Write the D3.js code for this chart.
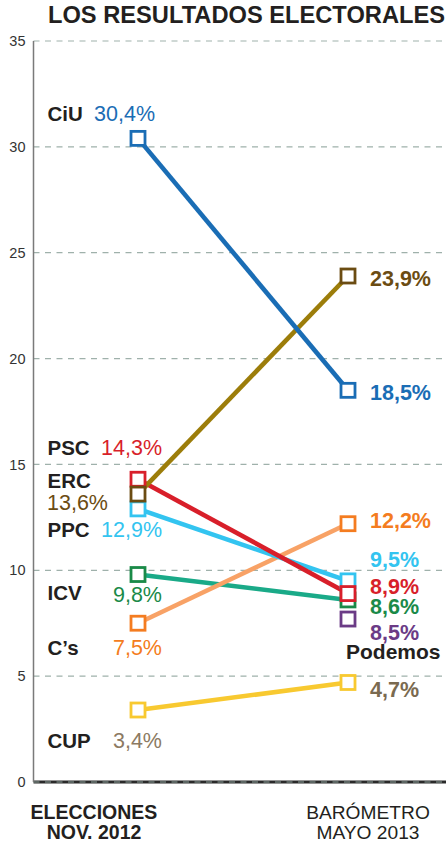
<!DOCTYPE html>
<html>
<head>
<meta charset="utf-8">
<script src="https://cdn.jsdelivr.net/npm/d3@7"></script>
<style>
  html, body { margin: 0; padding: 0; background: #ffffff; }
  svg { display: block; font-family: "Liberation Sans", Arial, Helvetica, sans-serif; }
</style>
</head>
<body>
<svg id="chart" width="446" height="857"></svg>
<script>
// ---- DATA ----
const periods = ["ELECCIONES NOV. 2012", "BARÓMETRO MAYO 2013"];
const parties = ["CUP", "ICV", "C's", "PPC", "PSC", "ERC", "CiU", "Podemos"];
const partyLabels = ["CUP", "ICV", "C’s", "PPC", "PSC", "ERC", "CiU", "Podemos"];
const values2012 = [3.4, 9.8, 7.5, 12.9, 14.3, 13.6, 30.4, null];
const values2013 = [4.7, 8.6, 12.2, 9.5, 8.9, 23.9, 18.5, 8.5];
const yTicks = [0, 5, 10, 15, 20, 25, 30, 35];
const titleText = "LOS RESULTADOS ELECTORALES";

// ---- STYLE / LAYOUT (not data) ----
const lineColors   = ["#f8c930", "#1aaa88", "#f8a266", "#33c4f0", "#d81f2a", "#9c7d0a", "#1a6db5", "#6b3b86"];
const markerColors = ["#f8c930", "#1a8a48", "#f47c20", "#33c4f0", "#d81f2a", "#6b4c12", "#1a6db5", "#6b3b86"];
const leftValColors  = ["#8c7a62", "#1a8a48", "#f47c20", "#33c4f0", "#d81f2a", "#6b4c12", "#1a6db5", null];
const rightValColors = ["#7a6a50", "#1a8a48", "#f47c20", "#33c4f0", "#d81f2a", "#6b4c12", "#1a6db5", "#6b3b86"];
// label nudges relative to the scaled value position (px)
const leftNameDy   = [38, 25.5, 32, 28, -24, -6, -17, null];
const leftValDy    = [38, 27.5, 32, 28, -24, 16, -17, null];
const leftValX     = [162, 162, 162, 162, 162, 47, 155, null];
const leftValAnchor= ["end", "end", "end", "end", "end", "start", "end", null];
const rightValDy   = [14.5, 14, 4.5, -14, 0, 9.5, 9.6, 38];
const rightMarkerDy= [0, 0, 0, 0, 0, 0, 0, 17];

const W = 446, H = 857;
const svg = d3.select("#chart");

const y = d3.scaleLinear().domain([0, 35]).range([782, 41]);
const x = d3.scalePoint().domain(periods).range([138, 348]);
const axisX = 33.5;

// Title
svg.append("text")
  .attr("x", 48).attr("y", 23)
  .attr("font-size", 23.5).attr("font-weight", "bold")
  .attr("fill", "#231f20")
  .attr("textLength", 397).attr("lengthAdjust", "spacingAndGlyphs")
  .text(titleText);

// Gridlines
const grid = svg.append("g");
grid.selectAll("line.grid").data(yTicks.filter(d => d > 0)).join("line")
  .attr("class", "grid")
  .attr("x1", axisX).attr("x2", W)
  .attr("y1", d => y(d)).attr("y2", d => y(d))
  .attr("stroke", "#9fb1ab").attr("stroke-width", 1.2)
  .attr("stroke-dasharray", "6,5.5");

// Baseline (0): dark with dashes
grid.append("line")
  .attr("x1", axisX).attr("x2", W)
  .attr("y1", y(0)).attr("y2", y(0))
  .attr("stroke", "#2a2a2a").attr("stroke-width", 3);
grid.append("line")
  .attr("x1", axisX).attr("x2", W)
  .attr("y1", y(0)).attr("y2", y(0))
  .attr("stroke", "#8fa39c").attr("stroke-width", 1)
  .attr("stroke-dasharray", "6,5.5");

// Y axis
const yAxis = d3.axisLeft(y).tickValues(yTicks).tickSize(0).tickPadding(8);
const gy = svg.append("g").attr("transform", `translate(${axisX},0)`).call(yAxis);
gy.select(".domain").attr("stroke", "#7a7a7a").attr("stroke-width", 1.5)
  .attr("d", `M0,${y(35)}V${y(0)}`);
gy.selectAll(".tick text")
  .attr("font-size", 14.5).attr("fill", "#333")
  .attr("font-family", "'Liberation Sans', Arial, sans-serif");

// Lines
const idx = d3.range(parties.length);
svg.append("g").selectAll("line.series")
  .data(idx.filter(i => values2012[i] != null)).join("line")
  .attr("x1", x(periods[0])).attr("y1", i => y(values2012[i]))
  .attr("x2", x(periods[1])).attr("y2", i => y(values2013[i]))
  .attr("stroke", i => lineColors[i]).attr("stroke-width", 4.6);

// Markers
const ms = 14;
const mg = svg.append("g");
idx.forEach(i => {
  if (values2012[i] != null) {
    mg.append("rect")
      .attr("x", x(periods[0]) - ms / 2).attr("y", y(values2012[i]) - ms / 2)
      .attr("width", ms).attr("height", ms)
      .attr("fill", "#fff").attr("stroke", markerColors[i]).attr("stroke-width", 2.8);
  }
});
idx.forEach(i => {
  mg.append("rect")
    .attr("x", x(periods[1]) - ms / 2).attr("y", y(values2013[i]) + rightMarkerDy[i] - ms / 2)
    .attr("width", ms).attr("height", ms)
    .attr("fill", "#fff").attr("stroke", markerColors[i]).attr("stroke-width", 2.8);
});

const fmt = v => String(v.toFixed(1)).replace(".", ",") + "%";

// Left labels
const lg = svg.append("g");
idx.filter(i => values2012[i] != null).forEach(i => {
  lg.append("text")
    .attr("x", 47.5).attr("y", y(values2012[i]) + leftNameDy[i])
    .attr("font-size", 20.5).attr("font-weight", "bold").attr("fill", "#231f20")
    .text(partyLabels[i]);
  lg.append("text")
    .attr("x", leftValX[i]).attr("y", y(values2012[i]) + leftValDy[i])
    .attr("text-anchor", leftValAnchor[i])
    .attr("font-size", 21.5).attr("fill", leftValColors[i])
    .text(fmt(values2012[i]));
});

// Right labels
const rg = svg.append("g");
idx.forEach(i => {
  rg.append("text")
    .attr("x", 370).attr("y", y(values2013[i]) + rightValDy[i])
    .attr("font-size", 21.5).attr("font-weight", "bold").attr("fill", rightValColors[i])
    .text(fmt(values2013[i]));
});
const pi = parties.indexOf("Podemos");
rg.append("text")
  .attr("x", 346).attr("y", y(values2013[pi]) + 57)
  .attr("font-size", 21).attr("font-weight", "bold").attr("fill", "#231f20")
  .text(partyLabels[pi]);

// Period labels
const p0 = periods[0].split(" ");
const bottom = svg.append("g");
bottom.append("text").attr("x", 94).attr("y", 819).attr("text-anchor", "middle")
  .attr("font-size", 19.5).attr("font-weight", "bold").attr("fill", "#231f20").text(p0[0]);
bottom.append("text").attr("x", 94).attr("y", 839).attr("text-anchor", "middle")
  .attr("font-size", 19.5).attr("font-weight", "bold").attr("fill", "#231f20").text(p0.slice(1).join(" "));
const p1 = periods[1].split(" ");
bottom.append("text").attr("x", 368).attr("y", 819).attr("text-anchor", "middle")
  .attr("font-size", 19.2).attr("fill", "#231f20").text(p1[0]);
bottom.append("text").attr("x", 368).attr("y", 839).attr("text-anchor", "middle")
  .attr("font-size", 19.2).attr("fill", "#231f20").text(p1.slice(1).join(" "));
</script>
</body>
</html>
